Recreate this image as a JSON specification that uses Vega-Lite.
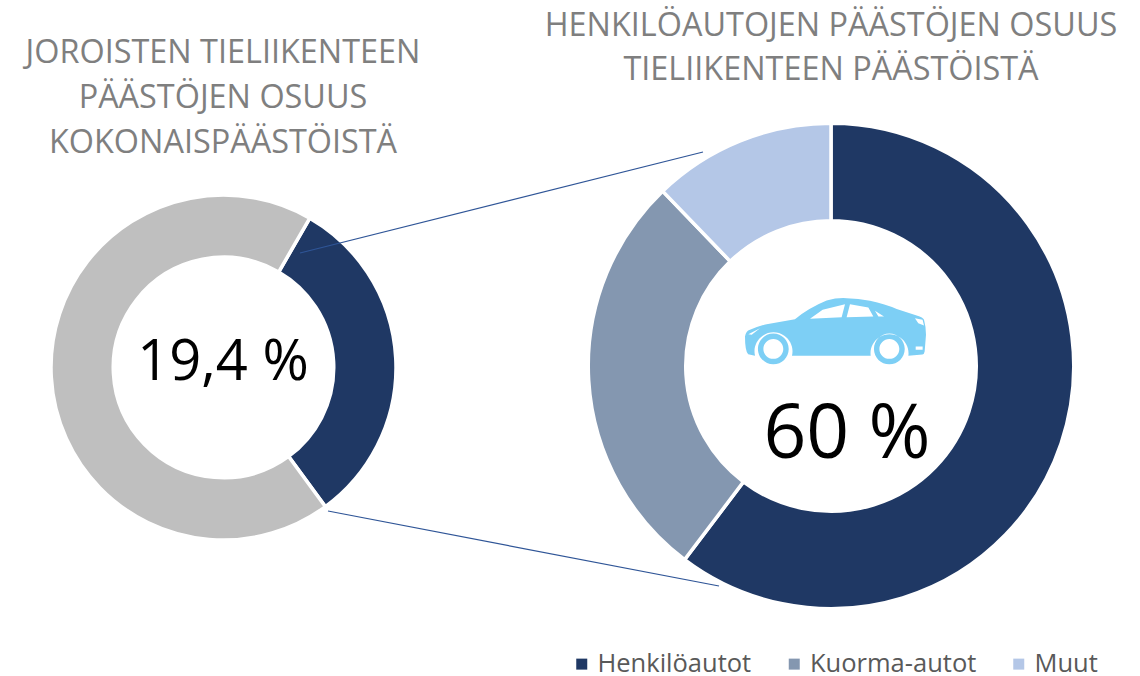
{
"$schema":"https://vega.github.io/schema/vega-lite/v6.json",
"width":1140,"height":676,"padding":0,"autosize":{"type":"none"},
"background":"white",
"config":{"view":{"stroke":null},"font":"Open Sans"},
"encoding":{
 "x":{"field":"x","type":"quantitative","scale":{"domain":[0,1140],"nice":false,"zero":false},"axis":null},
 "y":{"field":"y","type":"quantitative","scale":{"domain":[676,0],"nice":false,"zero":false},"axis":null}
},
"layer":[
{"data":{"values":[
 {"donut":"Joroinen","osuus":"Tieliikenne","pct":31.6,"x":223.5,"y":367.5,"o":1},
 {"donut":"Joroinen","osuus":"Muut päästöt","pct":68.4,"x":223.5,"y":367.5,"o":2}]},
 "mark":{"type":"arc","radius":172.5,"radius2":110.25,"stroke":"white","strokeWidth":3.5},
 "encoding":{
  "theta":{"field":"pct","type":"quantitative","stack":true,"scale":{"domain":[0,100],"range":[0.524,6.807]}},
  "order":{"field":"o","type":"ordinal"},
  "color":{"field":"osuus","type":"nominal"}}},
{"data":{"values":[
 {"donut":"Tieliikenne","osuus":"Henkilöautot","pct":60.3,"x":831,"y":366,"o":1},
 {"donut":"Tieliikenne","osuus":"Kuorma-autot","pct":27.5,"x":831,"y":366,"o":2},
 {"donut":"Tieliikenne","osuus":"Muut","pct":12.2,"x":831,"y":366,"o":3}]},
 "mark":{"type":"arc","radius":242.75,"radius2":145.25,"stroke":"white","strokeWidth":3.5},
 "encoding":{
  "theta":{"field":"pct","type":"quantitative","stack":true,"scale":{"domain":[0,100],"range":[0,6.2832]}},
  "order":{"field":"o","type":"ordinal"},
  "color":{"field":"osuus","type":"nominal","scale":{"domain":["Henkilöautot","Kuorma-autot","Muut","Tieliikenne","Muut päästöt"],"range":["#1f3864","#8497b0","#b4c7e7","#1f3864","#bfbfbf"]},
   "legend":{"values":["Henkilöautot","Kuorma-autot","Muut"],"title":null,"orient":"none","legendX":569,"legendY":651,"direction":"horizontal","columns":3,"columnPadding":29.5,"symbolType":"square","symbolSize":121,"symbolStrokeWidth":0,"symbolOpacity":1,"labelFontSize":25.5,"labelColor":"#595959","labelFont":"Open Sans","labelLimit":300,"labelOffset":3}}}},
{"data":{"values":[
 {"viiva":"ylä","x":300,"y":253,"x2":703,"y2":152},
 {"viiva":"ala","x":328,"y":511,"x2":719,"y2":586}]},
 "mark":{"type":"rule","stroke":"#2f5597","strokeWidth":1.25},
 "encoding":{"x2":{"field":"x2"},"y2":{"field":"y2"}}},
{"data":{"values":[
 {"t":"JOROISTEN TIELIIKENTEEN","x":223,"y":53},
 {"t":"PÄÄSTÖJEN OSUUS","x":223,"y":98},
 {"t":"KOKONAISPÄÄSTÖISTÄ","x":223,"y":143},
 {"t":"HENKILÖAUTOJEN PÄÄSTÖJEN OSUUS","x":831,"y":26},
 {"t":"TIELIIKENTEEN PÄÄSTÖISTÄ","x":831,"y":70}]},
 "mark":{"type":"text","fontSize":32.4,"color":"#7f7f7f","align":"center","baseline":"middle"},
 "encoding":{"text":{"field":"t"}}},
{"data":{"values":[{"t":"19,4 %","x":223,"y":363}]},
 "mark":{"type":"text","fontSize":56,"color":"#000000","align":"center","baseline":"middle"},
 "encoding":{"text":{"field":"t"}}},
{"data":{"values":[{"t":"60 %","x":847,"y":435}]},
 "mark":{"type":"text","fontSize":75,"color":"#000000","align":"center","baseline":"middle"},
 "encoding":{"text":{"field":"t"}}},
{"data":{"values":[{"kuva":"auto","x":835.5,"y":331.5}]},
 "mark":{"type":"point","filled":true,"opacity":1,"size":32761,"color":"#7dcff5","strokeWidth":0,
  "shape":"M-.889 .269 L-.965 .25 Q-1 .22 -1 .055 Q-.99 -.005 -.945 -.018 Q-.85 -.06 -.761 -.081 L-.448 -.136 Q-.3 -.26 -.098 -.343 Q.02 -.375 .123 -.368 Q.25 -.365 .381 -.339 Q.55 -.3 .676 -.25 L.897 -.177 Q.97 -.155 .978 -.129 Q1 -.05 1 .037 L.985 .22 Q.98 .25 .96 .255 L.805 .269 A.21 .21 0 1 0 .389 .269 L-.481 .269 A.21 .21 0 1 0 -.889 .269 Z M-.857 .192 A.17 .17 0 1 0 -.517 .192 A.17 .17 0 1 0 -.857 .192 Z M.425 .192 A.17 .17 0 1 0 .765 .192 A.17 .17 0 1 0 .425 .192 Z"}},
{"data":{"values":[{"kuva":"auton ikkunat","x":835.5,"y":331.5}]},
 "mark":{"type":"point","filled":true,"opacity":1,"size":32761,"color":"#ffffff","strokeWidth":0,
  "shape":"M-.282 -.14 L-.142 -.239 L.105 -.302 L.068 -.158 Z M.16 -.302 L.363 -.265 L.418 -.166 L.123 -.158 Z M.436 -.228 L.536 -.166 L.474 -.166 Z M.878 -.147 L.962 -.129 L.978 -.066 L.915 -.092 Z M-.963 .029 L-.834 -.037 L-.926 .037 Z M.886 .166 L.963 .166 L.963 .203 L.886 .203 Z M-.797 .192 A.11 .11 0 1 0 -.577 .192 A.11 .11 0 1 0 -.797 .192 Z M.485 .192 A.11 .11 0 1 0 .705 .192 A.11 .11 0 1 0 .485 .192 Z"}}
],
"resolve":{"scale":{"theta":"independent"}}
}
